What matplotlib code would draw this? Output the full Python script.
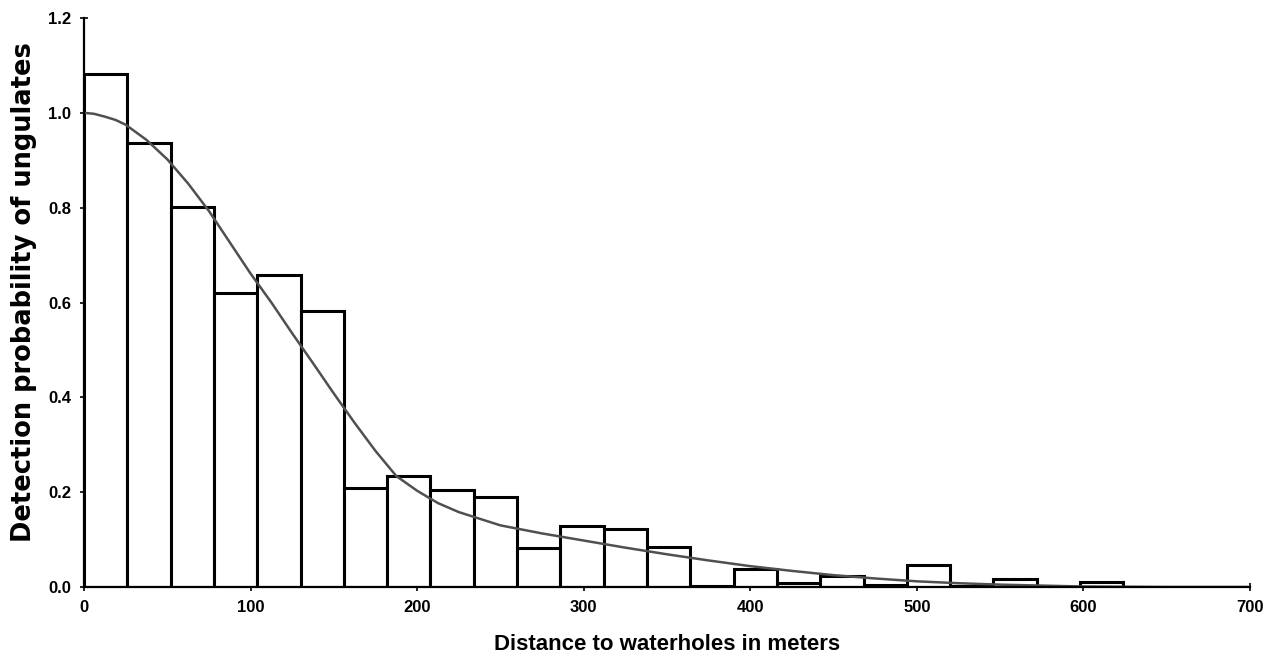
import numpy as np
import matplotlib.pyplot as plt

plt.rcParams['font.family'] = ['Liberation Sans', 'DejaVu Sans']
plt.rcParams['font.weight'] = 'bold'

# histogram: left edges of the 26 m wide classes and their heights
bin_left = [0, 26, 52, 78, 104, 130, 156, 182, 208, 234, 260, 286,
            312, 338, 364, 390, 416, 442, 468, 494, 520, 546, 572, 598]
bin_height = [1.082, 0.937, 0.801, 0.620, 0.658, 0.582, 0.209, 0.235,
              0.205, 0.189, 0.082, 0.129, 0.122, 0.085, 0.003, 0.039,
              0.009, 0.023, 0.004, 0.047, 0.003, 0.016, 0.001, 0.010]
bin_width = 26

# fitted detection function
curve_x = [0, 6, 12.5, 19, 25, 37.5, 50, 62.5, 75, 87.5, 100, 112.5, 125,
           137.5, 150, 162.5, 175, 187.5, 200, 212.5, 225, 250, 275, 300,
           325, 350, 375, 400, 425, 450, 475, 500, 525, 550, 575, 600, 650,
           700]
curve_y = [1.0, 0.998, 0.992, 0.985, 0.975, 0.943, 0.902, 0.851, 0.793,
           0.727, 0.661, 0.600, 0.535, 0.472, 0.408, 0.346, 0.287, 0.234,
           0.203, 0.177, 0.158, 0.130, 0.113, 0.098, 0.083, 0.069, 0.056,
           0.044, 0.034, 0.025, 0.018, 0.012, 0.008, 0.005, 0.003, 0.001,
           0.0, 0.0]

fig = plt.figure(figsize=(12.63, 6.55), dpi=100)
ax = fig.add_axes([0.0665, 0.1038, 0.9232, 0.8687])

ax.bar(bin_left, bin_height, width=bin_width, align='edge',
       facecolor='white', edgecolor='black', linewidth=2.2, zorder=2)
ax.plot(curve_x, curve_y, color='#505050', linewidth=1.8, zorder=3,
        solid_joinstyle='round')

ax.set_xlim(0, 700)
ax.set_ylim(0, 1.2)
ax.set_xticks(np.arange(0, 701, 100))
ax.set_yticks(np.arange(0, 1.21, 0.2))
ax.set_yticklabels(['%.1f' % v for v in np.arange(0, 1.21, 0.2)])

for side in ['top', 'right']:
    ax.spines[side].set_visible(False)
for side in ['left', 'bottom']:
    ax.spines[side].set_linewidth(1.6)
    ax.spines[side].set_zorder(4)

ax.tick_params(direction='inout', length=6, width=1.2, labelsize=12, pad=6)

ax.set_xlabel('Distance to waterholes in meters', fontsize=16,
              fontweight='bold', labelpad=14)
ax.set_ylabel('Detection probability of ungulates', fontsize=18.5,
              fontweight='bold', family=['DejaVu Sans'])
ax.yaxis.set_label_coords(-0.040, 0.518)

fig.savefig('out.png', dpi=100)
